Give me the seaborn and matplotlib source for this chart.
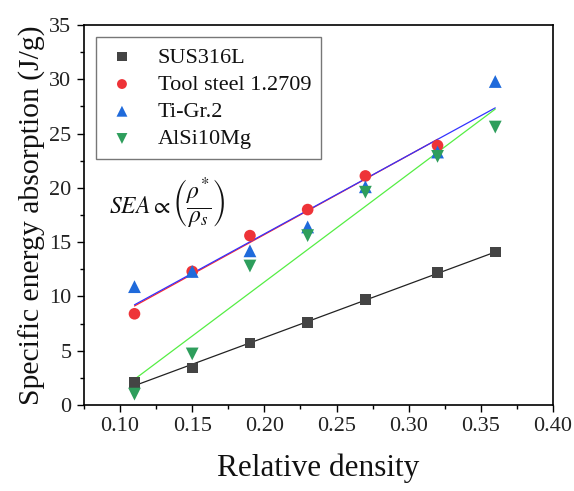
import numpy as np
import pandas as pd
import matplotlib
matplotlib.use("Agg")
import matplotlib.pyplot as plt
from matplotlib.ticker import MultipleLocator
import seaborn as sns

# Relative density of the lattice samples
density = [0.11, 0.15, 0.19, 0.23, 0.27, 0.32, 0.36]
density_tool = [0.11, 0.15, 0.19, 0.23, 0.27, 0.32]

# Specific energy absorption (J/g)
sea_sus316l = [2.1, 3.4, 5.7, 7.6, 9.7, 12.2, 14.1]
sea_tool_steel = [8.4, 12.3, 15.6, 18.0, 21.1, 23.9]
sea_ti_gr2 = [10.9, 12.3, 14.2, 16.4, 20.1, 23.3, 29.8]
sea_alsi10mg = [1.0, 4.7, 12.8, 15.6, 19.6, 22.9, 25.6]

materials = ["SUS316L", "Tool steel 1.2709", "Ti-Gr.2", "AlSi10Mg"]
marker_colors = ["#444444", "#EE3338", "#1F6ADB", "#2E9E5C"]
line_colors = ["#222222", "#FF2A2A", "#3333FF", "#55EE44"]
markers = ["s", "o", "^", "v"]
marker_sizes = [60, 70, 85, 85]

series = [
    (density, sea_sus316l),
    (density_tool, sea_tool_steel),
    (density, sea_ti_gr2),
    (density, sea_alsi10mg),
]

sns.set_theme(style="ticks")
plt.rcParams["font.family"] = ["Liberation Serif", "DejaVu Serif"]
plt.rcParams["mathtext.fontset"] = "stix"

fig = plt.figure(figsize=(5.74, 4.91), dpi=100)
ax = fig.add_axes([0.1463, 0.1752, 0.8171, 0.7738])

for name, (x, y), mc, lc, mk, ms in zip(materials, series, marker_colors,
                                        line_colors, markers, marker_sizes):
    df = pd.DataFrame({"x": x, "y": y})
    sns.regplot(data=df, x="x", y="y", ax=ax, scatter=False, ci=None,
                color=lc, line_kws={"linewidth": 0.9, "zorder": 2})
    sns.scatterplot(data=df, x="x", y="y", ax=ax, marker=mk, s=ms,
                    color=mc, edgecolor="none", label=name, zorder=3)

ax.set_xlim(0.075, 0.40)
ax.set_ylim(0, 35)
ax.xaxis.set_major_locator(MultipleLocator(0.05))
ax.xaxis.set_minor_locator(MultipleLocator(0.025))
ax.yaxis.set_major_locator(MultipleLocator(5))
ax.yaxis.set_minor_locator(MultipleLocator(2.5))
ax.xaxis.set_major_formatter(matplotlib.ticker.FormatStrFormatter("%.2f"))

ax.tick_params(axis="both", which="major", direction="out", length=5,
               width=1, labelsize=16, color="black", labelcolor="#222222",
               pad=4)
ax.tick_params(axis="both", which="minor", direction="out", length=3,
               width=1, color="black")
for sp in ax.spines.values():
    sp.set_color("black")
    sp.set_linewidth(1.2)

ax.set_xlabel("Relative density", fontsize=22.5, color="#111111", labelpad=12)
ax.set_ylabel("Specific energy absorption (J/g)", fontsize=21.3,
              color="#111111", labelpad=2)

ax.text(0.1325, 18.6, r"$SEA \propto \left(\dfrac{\rho^{*}}{\rho_s}\right)$",
        fontsize=17, ha="center", va="center", color="#111111")

leg = ax.legend(loc="upper left", bbox_to_anchor=(0.017, 0.98), fontsize=16,
                frameon=True, fancybox=False, edgecolor="#555555",
                handletextpad=0.9, borderpad=0.45, labelspacing=0.3,
                markerscale=0.85, handlelength=1.4, borderaxespad=0.2)
leg.get_frame().set_linewidth(1.0)
for t in leg.get_texts():
    t.set_color("#111111")

fig.savefig("out.png", dpi=100)
